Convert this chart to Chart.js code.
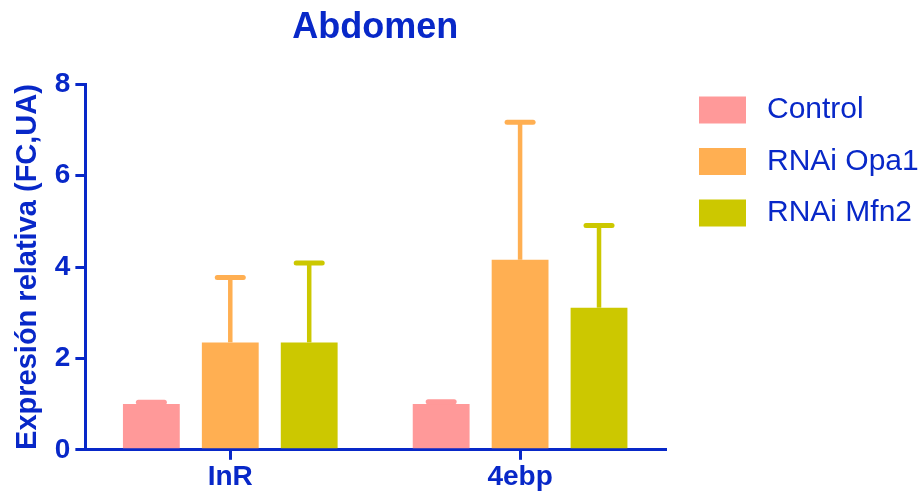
<!DOCTYPE html>
<html>
<head>
<meta charset="utf-8">
<script src="https://cdn.jsdelivr.net/npm/chart.js@4/dist/chart.umd.min.js"></script>
<style>
  html, body { margin: 0; padding: 0; background: #fff; }
  #wrap { width: 921px; height: 494px; }
</style>
</head>
<body>
<div id="wrap"><canvas id="chart"></canvas></div>
<script>
const genes = ['InR', '4ebp'];
const seriesNames = ['Control', 'RNAi Opa1', 'RNAi Mfn2'];
const controlValues = [1.0, 1.0];
const opa1Values = [2.35, 4.16];
const mfn2Values = [2.35, 3.11];
const controlErrors = [0.04, 0.05];
const opa1Errors = [1.42, 3.01];
const mfn2Errors = [1.74, 1.80];
const yTicks = [0, 2, 4, 6, 8];

const blue = '#0828C8';
const colors = ['#FF9999', '#FFAF52', '#CCC800'];

Chart.defaults.font.family = "'Liberation Sans', Arial, sans-serif";

// upward-only error bars, drawn in the bar colour
const errorBars = {
  id: 'errorBars',
  afterDatasetsDraw(chart) {
    const ctx = chart.ctx;
    const y = chart.scales.y;
    chart.data.datasets.forEach((ds, i) => {
      const meta = chart.getDatasetMeta(i);
      meta.data.forEach((bar, j) => {
        const top = y.getPixelForValue(ds.data[j] + ds.errors[j]);
        ctx.save();
        ctx.strokeStyle = ds.backgroundColor;
        ctx.lineWidth = 4.5;
        ctx.beginPath();
        ctx.moveTo(bar.x, bar.y);
        ctx.lineTo(bar.x, top);
        ctx.stroke();
        ctx.lineWidth = 5;
        ctx.lineCap = 'round';
        ctx.beginPath();
        ctx.moveTo(bar.x - 13, top);
        ctx.lineTo(bar.x + 13, top);
        ctx.stroke();
        ctx.restore();
      });
    });
  }
};

// legend in the right margin
const sideLegend = {
  id: 'sideLegend',
  afterDraw(chart) {
    const ctx = chart.ctx;
    ctx.save();
    ctx.font = "30px 'Liberation Sans', Arial, sans-serif";
    ctx.textBaseline = 'middle';
    ctx.textAlign = 'left';
    chart.data.datasets.forEach((ds, i) => {
      const cy = 110 + i * 51.5;
      ctx.fillStyle = ds.backgroundColor;
      ctx.fillRect(699, cy - 13.5, 47, 27);
      ctx.fillStyle = blue;
      ctx.fillText(ds.label, 767, cy);
    });
    ctx.restore();
  }
};

const ctx = document.getElementById('chart').getContext('2d');
new Chart(ctx, {
  type: 'bar',
  data: {
    labels: genes,
    datasets: [
      { label: seriesNames[0], data: controlValues, errors: controlErrors, backgroundColor: colors[0] },
      { label: seriesNames[1], data: opa1Values, errors: opa1Errors, backgroundColor: colors[1] },
      { label: seriesNames[2], data: mfn2Values, errors: mfn2Errors, backgroundColor: colors[2] }
    ]
  },
  options: {
    responsive: true,
    maintainAspectRatio: false,
    animation: false,
    layout: { padding: { left: 0, right: 256, top: 0, bottom: 0 } },
    datasets: {
      bar: { categoryPercentage: 0.817, barPercentage: 0.72, borderWidth: 0 }
    },
    plugins: {
      legend: { display: false },
      tooltip: { enabled: false },
      title: {
        display: true,
        fullSize: false,
        text: 'Abdomen',
        color: blue,
        font: { size: 36, weight: 'bold' },
        padding: { top: 6, bottom: 35 }
      }
    },
    scales: {
      x: {
        grid: { offset: false, drawOnChartArea: false, color: blue, lineWidth: 3, tickLength: 10 },
        border: { color: blue, width: 3 },
        ticks: { color: blue, font: { size: 28, weight: 'bold', lineHeight: 1.15 }, padding: 1 }
      },
      y: {
        min: 0,
        max: 8,
        afterBuildTicks: (axis) => { axis.ticks = yTicks.map(v => ({ value: v })); },
        grid: { drawOnChartArea: false, color: blue, lineWidth: 3, tickLength: 10 },
        border: { color: blue, width: 3 },
        ticks: { color: blue, font: { size: 28, weight: 'bold' }, padding: 5 },
        title: {
          display: true,
          text: 'Expresión relativa (FC,UA)',
          color: blue,
          font: { size: 29, weight: 'bold' },
          padding: { top: 11, bottom: 4 }
        }
      }
    }
  },
  plugins: [errorBars, sideLegend]
});
</script>
</body>
</html>
